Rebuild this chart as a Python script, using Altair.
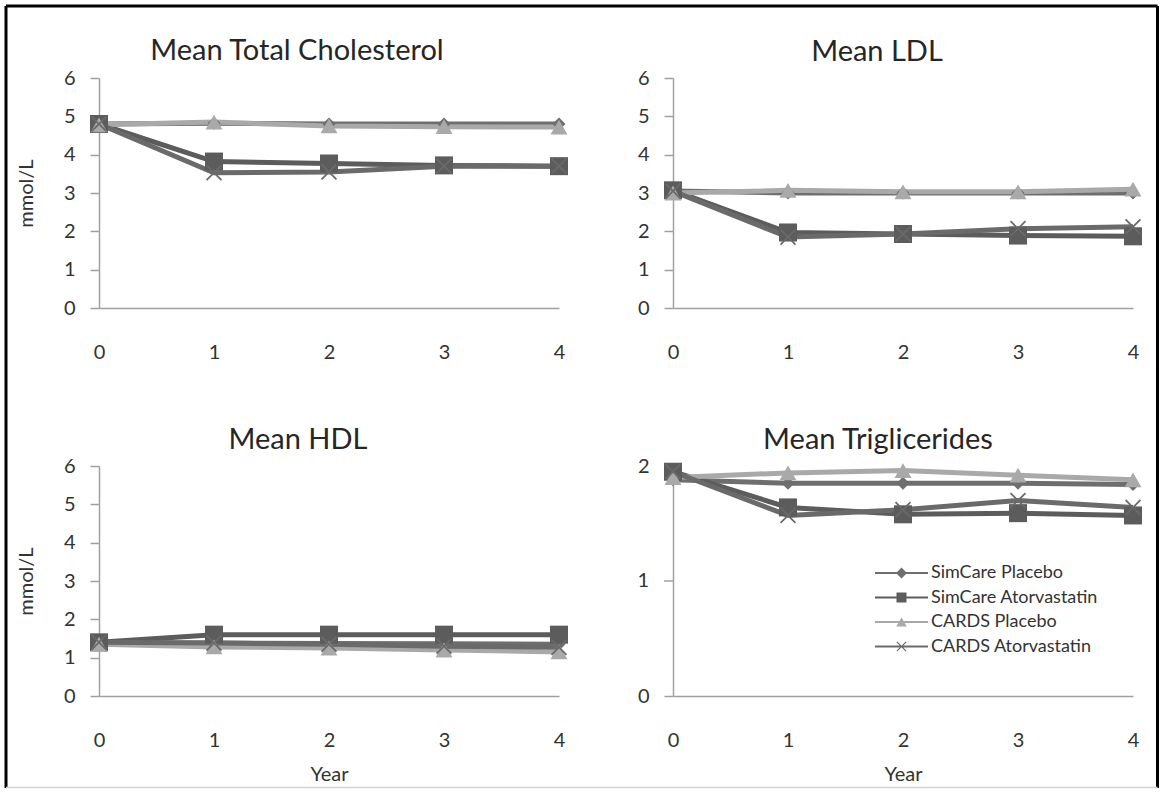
import altair as alt
import pandas as pd

# ---------------- data ----------------
years = [0, 1, 2, 3, 4]
series = ["SimCare Placebo", "SimCare Atorvastatin", "CARDS Placebo", "CARDS Atorvastatin"]

tc_simcare_placebo = [4.80, 4.82, 4.80, 4.80, 4.80]
tc_simcare_atorva = [4.80, 3.82, 3.77, 3.72, 3.70]
tc_cards_placebo = [4.78, 4.85, 4.75, 4.73, 4.72]
tc_cards_atorva = [4.80, 3.53, 3.55, 3.70, 3.70]

ldl_simcare_placebo = [3.05, 3.00, 3.00, 3.00, 3.00]
ldl_simcare_atorva = [3.07, 1.97, 1.93, 1.89, 1.87]
ldl_cards_placebo = [3.00, 3.07, 3.03, 3.03, 3.10]
ldl_cards_atorva = [3.05, 1.85, 1.93, 2.07, 2.12]

hdl_simcare_placebo = [1.38, 1.38, 1.37, 1.36, 1.35]
hdl_simcare_atorva = [1.40, 1.60, 1.60, 1.60, 1.60]
hdl_cards_placebo = [1.35, 1.28, 1.25, 1.20, 1.15]
hdl_cards_atorva = [1.40, 1.38, 1.35, 1.30, 1.27]

tg_simcare_placebo = [1.88, 1.85, 1.85, 1.85, 1.84]
tg_simcare_atorva = [1.95, 1.64, 1.58, 1.59, 1.57]
tg_cards_placebo = [1.90, 1.94, 1.96, 1.92, 1.88]
tg_cards_atorva = [1.95, 1.57, 1.62, 1.70, 1.64]

yticks_6 = [0, 1, 2, 3, 4, 5, 6]
yticks_2 = [0, 1, 2]

# ---------------- styling ----------------
FONT = "Lato"
TEXT = "#333333"
AXIS_GRAY = "#a0a0a0"
colors = ["#6e6e6e", "#5c5c5c", "#a9a9a9", "#6a6a6a"]
Y_TICK = 9
Y_LABEL_PAD = 15

# plot markers (unit box [-1,1], scaled by sqrt(size)/2)
marker_paths = [
    "M0,-0.72L0.72,0L0,0.72L-0.72,0Z",
    "M-1,-1H1V1H-1Z",
    "M0,-0.82L0.94,0.82L-0.94,0.82Z",
    "M-0.9,-0.76L-0.76,-0.9L0,-0.14L0.76,-0.9L0.9,-0.76L0.14,0L0.9,0.76L0.76,0.9L0,0.14L-0.76,0.9L-0.9,0.76L-0.14,0Z",
]
LINE = "M-5.3,-0.2H5.3V0.2H-5.3Z"
legend_paths = [
    LINE + "M0,-1.1L1.1,0L0,1.1L-1.1,0Z",
    LINE + "M-1,-1H1V1H-1Z",
    LINE + "M0,-0.9L1.05,0.9L-1.05,0.9Z",
    LINE + "M-1,-0.83L-0.83,-1L0,-0.17L0.83,-1L1,-0.83L0.17,0L1,0.83L0.83,1L0,0.17L-0.83,1L-1,0.83L-0.17,0Z",
]


def make_df(vals):
    rows = []
    for s, v in zip(series, vals):
        for yr, val in zip(years, v):
            rows.append({"series": s, "year": yr, "value": val})
    return pd.DataFrame(rows)


def panel(vals, title, ymax, yticks, title_dx, ytitle=None, xtitle=None,
          legend=False, frame=False, manual_inner_ticks=False):
    df = make_df(vals)
    base = alt.Chart(df)
    axis_values = [yticks[0], yticks[-1]] if manual_inner_ticks else yticks
    x = alt.X(
        "year:Q",
        scale=alt.Scale(domain=[0, 4], nice=False, zero=False),
        axis=alt.Axis(
            values=years, format="d", ticks=False, tickSize=0,
            grid=False, domainColor=AXIS_GRAY, domainWidth=1.5, labelPadding=34,
            labelFontSize=20, labelFont=FONT, labelColor=TEXT, labelFlush=False,
            labelOverlap=False,
            title=xtitle, titleFont=FONT, titleFontSize=20, titleFontWeight="normal",
            titleColor=TEXT, titlePadding=14,
        ),
    )
    y = alt.Y(
        "value:Q",
        scale=alt.Scale(domain=[0, ymax], nice=False, zero=True),
        axis=alt.Axis(
            values=axis_values, format="d", grid=False, tickSize=Y_TICK,
            tickColor=AXIS_GRAY, tickWidth=1.5, domainColor=AXIS_GRAY, domainWidth=1.5,
            labelPadding=Y_LABEL_PAD, labelFontSize=20, labelFont=FONT, labelColor=TEXT,
            labelFlush=False, labelOverlap=False,
            title=ytitle, titleFont=FONT, titleFontSize=20, titleFontWeight="normal",
            titleColor=TEXT, titlePadding=26.5,
        ),
    )
    color = alt.Color("series:N", scale=alt.Scale(domain=series, range=colors), legend=None)
    lines = base.mark_line(strokeWidth=5).encode(x=x, y=y, color=color)
    points = base.mark_point(filled=True, size=324, opacity=1, strokeWidth=0).encode(
        x=x, y=y, color=color,
        shape=alt.Shape("series:N", scale=alt.Scale(domain=series, range=marker_paths), legend=None),
    )
    layers = [lines, points]

    if manual_inner_ticks:
        # inner y ticks drawn through the same y scale (Vega drops them for this axis)
        inner = alt.Chart(pd.DataFrame({"value": yticks[1:-1]}))
        layers += [
            inner.mark_rule(color=AXIS_GRAY, strokeWidth=1.5).encode(
                x=alt.value(-Y_TICK), x2=alt.value(0), y=y),
            inner.mark_text(align="right", baseline="middle", font=FONT, fontSize=20,
                            color=TEXT).encode(
                x=alt.value(-(Y_TICK + Y_LABEL_PAD)), y=y,
                text=alt.Text("value:Q", format="d")),
        ]

    if legend:
        leg_props = dict(
            title=None, orient="none", legendX=219.5, legendY=98, symbolSize=100,
            labelOffset=20.5, labelFontSize=18, labelFont=FONT, labelColor=TEXT,
            rowPadding=6.5, padding=0, symbolStrokeWidth=0, symbolOpacity=1, labelLimit=300,
        )
        leg = (
            alt.Chart(pd.DataFrame({"series": series}))
            .transform_filter("false")
            .mark_point(filled=True, opacity=1, strokeWidth=0)
            .encode(
                fill=alt.Fill("series:N", scale=alt.Scale(domain=series, range=colors),
                              legend=alt.Legend(**leg_props)),
                shape=alt.Shape("series:N", scale=alt.Scale(domain=series, range=legend_paths),
                                legend=alt.Legend(**leg_props)),
            )
        )
        layers.append(leg)

    title_dy = 2
    if frame:
        one = alt.Data(values=[{}])
        L, R, T, B = -93, 1058.5, -72, 710
        layers += [
            alt.Chart(one).mark_rule(color="#000000", strokeWidth=3).encode(
                x=alt.value(L), y=alt.value(T), y2=alt.value(B)),
            alt.Chart(one).mark_rule(color="#000000", strokeWidth=3).encode(
                x=alt.value(R), y=alt.value(T), y2=alt.value(B)),
            alt.Chart(one).mark_rule(color="#000000", strokeWidth=3).encode(
                x=alt.value(L), x2=alt.value(R), y=alt.value(T)),
            alt.Chart(one).mark_rule(color="#d4d4d4", strokeWidth=1.5).encode(
                x=alt.value(L), x2=alt.value(R), y=alt.value(B - 0.5)),
        ]
        # the frame widens this view's bounds upward; bring the title back down
        title_dy = 1 + 63.5

    ch = alt.layer(*layers).properties(
        width=460, height=230,
        title=alt.TitleParams(
            text=title, font=FONT, fontSize=29, fontWeight="normal", color="#262626",
            anchor="middle", dx=title_dx, dy=title_dy, offset=3,
        ),
    )
    if legend:
        ch = ch.resolve_scale(shape="independent", fill="independent")
    return ch


p1 = panel([tc_simcare_placebo, tc_simcare_atorva, tc_cards_placebo, tc_cards_atorva],
           "Mean Total Cholesterol", 6, yticks_6, -32, ytitle="mmol/L", frame=True)
p2 = panel([ldl_simcare_placebo, ldl_simcare_atorva, ldl_cards_placebo, ldl_cards_atorva],
           "Mean LDL", 6, yticks_6, -26)
p3 = panel([hdl_simcare_placebo, hdl_simcare_atorva, hdl_cards_placebo, hdl_cards_atorva],
           "Mean HDL", 6, yticks_6, -31, ytitle="mmol/L", xtitle="Year")
p4 = panel([tg_simcare_placebo, tg_simcare_atorva, tg_cards_placebo, tg_cards_atorva],
           "Mean Triglicerides", 2, yticks_2, -25, xtitle="Year", legend=True,
           manual_inner_ticks=True)

res = dict(color="independent", shape="independent", fill="independent")

chart = (
    alt.concat(p1, p2, p3, p4, columns=2, spacing={"row": 158, "column": 114}, bounds="flush")
    .resolve_scale(**res)
    .properties(padding={"left": 4, "top": 4, "right": 0, "bottom": 0}, background="white")
    .configure_view(strokeWidth=0)
)

chart.save("out.html", embed_options={"renderer": "svg", "actions": False})
